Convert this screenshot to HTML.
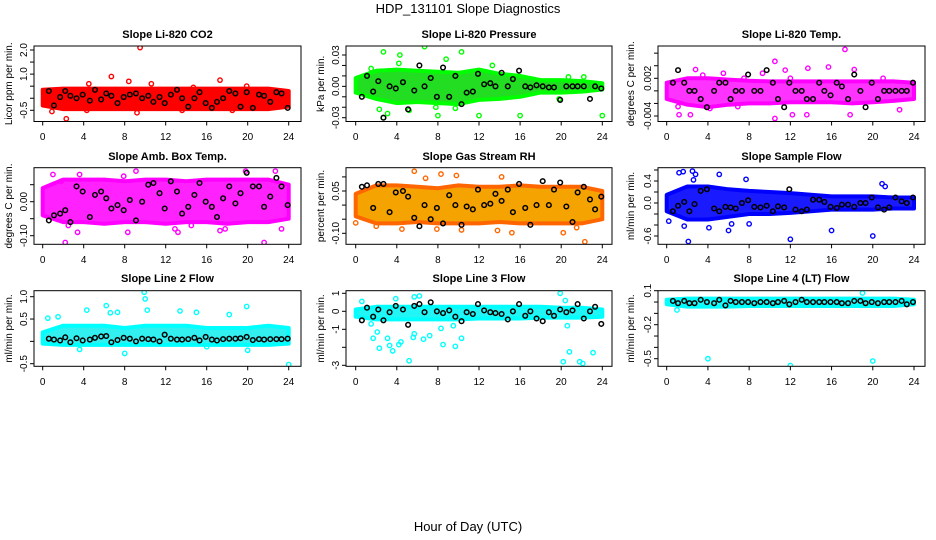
<!DOCTYPE html>
<html><head><meta charset="utf-8">
<style>
html,body{margin:0;padding:0;background:#fff;}
svg{display:block;font-family:"Liberation Sans",Arial,sans-serif;}
</style></head>
<body>
<svg id="chart" width="936" height="540" viewBox="0 0 936 540" xmlns="http://www.w3.org/2000/svg">
<rect x="0" y="0" width="936" height="540" fill="#fff"/>
<text x="468" y="13" text-anchor="middle" font-size="13">HDP_131101  Slope Diagnostics</text>
<text x="468" y="531" text-anchor="middle" font-size="13">Hour of Day (UTC)</text>
</svg>
<script>
// ---- shared data ----
const bandHours = [0,2,4,6,8,10,12,14,16,18,20,22,24];
const blackX = [0.6,1.1,1.7,2.2,2.7,3.3,3.9,4.6,5.1,5.7,6.2,6.7,7.3,7.9,8.5,9.1,9.7,10.3,10.8,11.4,11.9,12.5,13.1,13.6,14.2,14.8,15.3,15.9,16.5,17.0,17.6,18.2,18.8,19.3,19.9,20.5,21.1,21.6,22.2,22.8,23.3,23.9];
const xTicks = [0,4,8,12,16,20,24];

// ---- panel 1: CO2 ----
const p1Lo = [-0.3,-0.45,-0.45,-0.45,-0.45,-0.45,-0.45,-0.45,-0.45,-0.45,-0.45,-0.45,-0.35];
const p1Hi = [0.35,0.4,0.4,0.4,0.4,0.4,0.4,0.4,0.4,0.4,0.4,0.4,0.3];
const p1OutX = [9.5,6.7,8.4,4.5,10.6,17.3,2.3,9.2,4.3,18.5,13.6,0.9,14.7,19.9];
const p1OutY = [2.1,0.9,0.7,0.6,0.6,0.75,-0.85,-0.6,-0.5,-0.5,-0.5,-0.55,0.45,0.5];
const p1Black = [0.3,-0.3,0.05,0.3,0.1,0.0,0.15,-0.1,0.35,-0.05,0.2,0.1,-0.2,0.05,0.15,0.2,0.0,0.1,-0.15,0.05,-0.2,0.15,0.35,0.0,-0.35,0.0,0.25,-0.2,-0.4,-0.15,0.0,0.3,0.2,-0.35,0.25,-0.4,0.15,0.1,-0.15,0.25,0.2,-0.4];
const p1Ticks = [-0.5,0,0.5,1,1.5,2];
const p1Labels = ["-0.5","","","1.0","","2.0"];

// ---- panel 2: Pressure ----
const p2Lo = [-0.006,-0.012,-0.016,-0.015,-0.016,-0.017,-0.013,-0.012,-0.010,-0.006,-0.006,-0.005,-0.003];
const p2Hi = [0.008,0.015,0.016,0.015,0.014,0.013,0.016,0.012,0.010,0.006,0.006,0.005,0.003];
const p2OutX = [2.7,6.7,4.3,8.8,10.3,2.7,2.3,3.1,8,12,16,24,1.5,9.7,4.2,13.3,20.7,22.2,5.2,7.8,19.8];
const p2OutY = [0.033,0.038,0.03,0.026,0.033,-0.03,-0.022,-0.026,-0.028,-0.028,-0.028,-0.028,0.017,-0.021,0.022,0.020,0.009,0.009,-0.023,-0.02,-0.012];
const p2Black = [-0.01,0.01,-0.005,0.005,-0.03,0.0,-0.002,0.004,-0.022,-0.004,0.02,0.0,0.008,-0.01,0.018,-0.01,0.01,-0.017,-0.006,-0.005,0.012,0.002,0.003,0.0,0.013,0.0,0.007,0.015,0.0,-0.001,0.001,0.0,-0.001,-0.001,-0.013,0.0,0.0,0.0,0.0,-0.012,0.0,-0.002];
const p2Ticks = [-0.03,-0.02,-0.01,0,0.01,0.02,0.03];
const p2Labels = ["-0.03","","","0.00","","","0.03"];

// ---- panel 3: Li-820 Temp ----
const p3Lo = [-0.0013,-0.0022,-0.0026,-0.0022,-0.002,-0.002,-0.0018,-0.0018,-0.0018,-0.002,-0.0018,-0.0016,-0.0013];
const p3Hi = [0.0013,0.002,0.002,0.0018,0.0016,0.0015,0.0015,0.0015,0.0015,0.0015,0.0015,0.0015,0.0013];
const p3OutX = [1.2,2.3,1.1,2.8,5.5,10.5,10.5,11.5,13.7,15.7,17.3,18.2,17.8,12.2,13.6,22.6,9.3,6.9,4.2,21,12,7.5,3.5];
const p3OutY = [-0.0038,-0.0038,-0.0025,0.0034,0.0028,0.0047,-0.0044,0.0033,0.0036,0.0038,0.0066,0.0034,-0.0038,-0.0038,-0.0038,-0.0030,0.0028,-0.0025,-0.0028,0.0020,0.0020,0.002,0.0025];
const p3Black = [0.0013,0.0033,0.0013,0,0,-0.0013,-0.0026,0,0.0013,0.0013,-0.0013,0,0,0.0026,0,0,0.0033,0.0013,-0.0013,-0.0026,0.0013,0,0,-0.0013,-0.0013,0.0013,0,-0.0007,0.0013,0.0007,-0.0013,0.0026,0,-0.0026,0.0013,-0.0013,0,0,0,0,0,0.0013];
const p3Ticks = [-0.004,-0.002,0,0.002,0.004,0.006];
const p3Labels = ["-0.004","","","0.002","",""];

// ---- panel 4: Amb Box Temp ----
const p4Lo = [-0.04,-0.06,-0.06,-0.065,-0.06,-0.06,-0.065,-0.06,-0.06,-0.065,-0.06,-0.06,-0.05];
const p4Hi = [0.04,0.065,0.065,0.065,0.06,0.065,0.065,0.06,0.065,0.065,0.065,0.065,0.05];
const p4OutX = [1,2.2,3.4,2.5,8.3,13.2,17.3,17.8,21.6,22.7,9.1,19.8,12.9,14.5,7.9,3.6,23.3,1.8];
const p4OutY = [0.08,-0.12,-0.09,-0.07,-0.09,-0.09,-0.085,-0.08,-0.12,0.09,0.09,0.09,-0.08,-0.07,0.075,0.08,-0.08,0.06];
const p4Black = [-0.055,-0.04,-0.035,-0.025,-0.06,0.045,0.03,-0.045,0.02,0.03,0.01,-0.02,-0.01,-0.025,0.005,-0.055,0.0,0.05,0.055,0.025,-0.02,0.06,0.03,-0.035,-0.015,0.02,0.055,0.0,-0.015,-0.045,0.01,0.045,-0.005,0.025,0.085,0.045,0.045,-0.015,0.015,0.07,0.045,-0.01];
const p4Ticks = [-0.1,-0.05,0,0.05];
const p4Labels = ["-0.10","","0.00",""];

// ---- panel 5: Gas Stream RH ----
const p5Lo = [-0.04,-0.065,-0.065,-0.06,-0.065,-0.065,-0.065,-0.06,-0.065,-0.065,-0.065,-0.065,-0.05];
const p5Hi = [0.04,0.07,0.07,0.065,0.06,0.07,0.065,0.065,0.07,0.065,0.065,0.065,0.05];
const p5OutX = [5.7,8.3,9.8,14.2,22.3,15.2,20.2,10.3,7.9,2,0,13.8,21.5,6.8,4.5];
const p5OutY = [0.12,0.11,0.105,0.1,-0.13,-0.098,-0.098,-0.088,-0.085,-0.075,-0.063,-0.09,-0.08,0.095,-0.085];
const p5Black = [0.065,0.07,-0.01,0.075,0.075,-0.025,0.045,0.05,0.03,-0.045,-0.075,0.0,-0.05,-0.01,-0.065,0.035,0.0,-0.07,-0.005,-0.015,0.055,0.0,0.005,0.04,0.015,0.055,-0.025,0.075,-0.01,-0.07,0.0,0.085,0.0,0.055,0.08,-0.005,-0.06,0.045,0.065,0.02,-0.015,0.03];
const p5Ticks = [-0.1,-0.05,0,0.05,0.1];
const p5Labels = ["-0.10","","","0.05",""];

// ---- panel 6: Sample Flow ----
const p6Lo = [-0.15,-0.3,-0.3,-0.25,-0.2,-0.2,-0.18,-0.15,-0.12,-0.12,-0.12,-0.1,-0.1];
const p6Hi = [0.15,0.3,0.3,0.25,0.22,0.2,0.18,0.15,0.12,0.12,0.12,0.1,0.1];
const p6OutX = [1.2,1.6,2.5,2.8,5.1,7.7,0.2,1.7,2.1,4.1,6.0,12,16,20,20.9,2.6,6.3,8.0,21.2];
const p6OutY = [0.55,0.57,0.58,0.52,0.52,0.43,-0.33,-0.42,-0.7,-0.45,-0.5,-0.66,-0.5,-0.6,0.35,0.42,-0.38,-0.38,0.3];
const p6Black = [-0.15,-0.05,0.02,-0.15,-0.02,0.22,0.25,-0.1,-0.15,-0.07,-0.08,-0.1,0.0,0.05,-0.07,-0.08,-0.05,-0.15,-0.06,-0.08,0.25,-0.12,-0.15,-0.12,0.06,0.06,0.02,-0.07,-0.09,-0.03,-0.03,-0.07,0.0,0.0,0.1,-0.08,-0.12,-0.08,0.1,0.03,0.0,0.1];
const p6Ticks = [-0.6,-0.4,-0.2,0,0.2,0.4,0.6];
const p6Labels = ["-0.6","","","0.0","","0.4",""];

// ---- panel 7: Line 2 Flow ----
const p7Lo = [-0.05,-0.08,-0.08,-0.08,-0.08,-0.08,-0.08,-0.08,-0.08,-0.08,-0.08,-0.08,-0.05];
const p7Hi = [0.2,0.35,0.35,0.35,0.3,0.35,0.35,0.35,0.3,0.3,0.3,0.35,0.3];
const p7OutX = [9.9,10,10.2,6.2,19.9,4.3,13.4,15,7.3,6.6,3.6,8,24,20,16,0.5,1.5,18.2];
const p7OutY = [1.1,0.95,0.7,0.8,0.78,0.7,0.68,0.65,0.65,0.64,-0.18,-0.27,-0.52,-0.2,-0.12,0.52,0.55,0.6];
const p7Black = [0.06,0.04,0.02,0.09,-0.02,0.07,0.02,0.04,0.08,0.11,0.12,-0.02,0.03,0.08,0.06,0.0,0.06,0.05,0.04,0.0,0.15,0.06,0.04,0.04,0.05,0.08,0.02,0.1,0.04,0.02,0.05,0.06,0.06,0.07,0.1,0.03,0.05,0.04,0.05,0.05,0.05,0.06];
const p7Ticks = [-0.5,0,0.5,1];
const p7Labels = ["-0.5","","0.5","1.0"];

// ---- panel 8: Line 3 Flow ----
const p8Lo = [-0.3,-0.45,-0.45,-0.45,-0.45,-0.45,-0.4,-0.4,-0.4,-0.35,-0.35,-0.35,-0.3];
const p8Hi = [0.1,0.25,0.25,0.25,0.25,0.25,0.25,0.25,0.25,0.25,0.2,0.2,0.1];
const p8OutX = [0.6,3.9,5.7,6.2,19.9,20.4,1.5,1.7,2.1,2.3,3.1,3.3,3.6,4.2,4.4,5.2,5.7,5.6,6.6,7.2,8.5,8.3,9.7,10.3,20.2,20.8,20.6,21.8,22.1,23.1,9.5];
const p8OutY = [0.55,0.7,0.8,0.85,1.0,0.6,-0.7,-1.5,-1.15,-2.05,-1.5,-1.9,-2.2,-1.85,-1.7,-2.75,-1.25,-1.45,-1.55,-1.35,-1.85,-0.95,-1.95,-1.5,-2.8,-2.25,-0.8,-2.8,-2.9,-2.3,-0.8];
const p8Black = [-0.5,0.2,-0.3,0.1,-0.5,-0.05,0.3,0.1,-0.75,0.3,0.4,-0.05,0.5,0.0,-0.1,0.05,-0.3,-0.55,-0.05,-0.15,0.4,0.05,-0.05,-0.1,-0.15,-0.45,0.0,0.4,-0.25,0.0,-0.4,-0.55,-0.05,-0.25,0.1,-0.05,0.05,0.4,-0.4,0.0,0.25,-0.7];
const p8Ticks = [-3,-2,-1,0,1];
const p8Labels = ["-3","","-1","0","1"];

// ---- panel 9: Line 4 (LT) Flow ----
const p9Lo = [-0.02,-0.04,-0.04,-0.04,-0.035,-0.035,-0.035,-0.035,-0.035,-0.035,-0.035,-0.035,-0.02];
const p9Hi = [0.02,0.03,0.03,0.03,0.03,0.03,0.03,0.03,0.03,0.03,0.03,0.03,0.02];
const p9OutX = [4,12,20,19,1];
const p9OutY = [-0.5,-0.56,-0.52,0.08,-0.07];
const p9Black = [0.01,-0.01,0.01,-0.01,-0.01,0.02,0.0,-0.01,0.02,-0.03,0.01,0.0,0.0,0.0,-0.01,0.0,0.0,-0.01,0.0,0.01,-0.02,0.0,0.02,0.0,0.0,0.0,0.0,0.0,0.0,-0.01,-0.01,0.01,0.01,-0.01,0.0,-0.01,0.0,0.0,0.0,0.01,-0.02,0.0];
const p9Ticks = [-0.5,-0.4,-0.3,-0.2,-0.1,0,0.1];
const p9Labels = ["-0.5","","","-0.2","","","0.1"];

// ---- layout (not data) ----
const cols = [{L:34,R:301,x0:42.7,x24:288.7,yt:8},{L:346,R:612,x0:355.7,x24:602.3,yt:320},{L:658,R:925,x0:666.7,x24:914,yt:630}];
const rows = [{T:46,B:121.5,tl:140,tt:38},{T:167.7,B:244.3,tl:263,tt:160},{T:290.7,B:366.3,tl:385,tt:282}];
const NS = "http://www.w3.org/2000/svg";
const svg = document.getElementById('chart');
function mk(tag, attrs, parent){const e=document.createElementNS(NS,tag);for(const k in attrs)e.setAttribute(k,attrs[k]);(parent||svg).appendChild(e);return e;}

const panels = [
 {t:"Slope Li-820 CO2",yl:"Licor ppm per min.",c:0,r:0,a:[2.0,50],b:[-0.5,110.3],lo:p1Lo,hi:p1Hi,ox:p1OutX,oy:p1OutY,bk:p1Black,tk:p1Ticks,lb:p1Labels,col:"#ff0000",fill:"#ff0000"},
 {t:"Slope Li-820 Pressure",yl:"kPa per min.",c:1,r:0,a:[0.03,55],b:[-0.03,117.7],lo:p2Lo,hi:p2Hi,ox:p2OutX,oy:p2OutY,bk:p2Black,tk:p2Ticks,lb:p2Labels,col:"#00ff00",fill:"#22dd22"},
 {t:"Slope Li-820 Temp.",yl:"degrees C per min.",c:2,r:0,a:[0.002,78.3],b:[-0.004,116],lo:p3Lo,hi:p3Hi,ox:p3OutX,oy:p3OutY,bk:p3Black,tk:p3Ticks,lb:p3Labels,col:"#ff00ff",fill:"#ff33ff"},
 {t:"Slope Amb. Box Temp.",yl:"degrees C per min.",c:0,r:1,a:[0,201.7],b:[-0.1,235.7],lo:p4Lo,hi:p4Hi,ox:p4OutX,oy:p4OutY,bk:p4Black,tk:p4Ticks,lb:p4Labels,col:"#ff00ff",fill:"#ff22ff"},
 {t:"Slope Gas Stream RH",yl:"percent per min.",c:1,r:1,a:[0.05,191],b:[-0.1,233.3],lo:p5Lo,hi:p5Hi,ox:p5OutX,oy:p5OutY,bk:p5Black,tk:p5Ticks,lb:p5Labels,col:"#ff6600",fill:"#f5a300"},
 {t:"Slope Sample Flow",yl:"ml/min per min.",c:2,r:1,a:[0.4,181],b:[-0.6,236],lo:p6Lo,hi:p6Hi,ox:p6OutX,oy:p6OutY,bk:p6Black,tk:p6Ticks,lb:p6Labels,col:"#0000ff",fill:"#1a1aff"},
 {t:"Slope Line 2 Flow",yl:"ml/min per min.",c:0,r:2,a:[1.0,296.7],b:[-0.5,363.7],lo:p7Lo,hi:p7Hi,ox:p7OutX,oy:p7OutY,bk:p7Black,tk:p7Ticks,lb:p7Labels,col:"#00ffff",fill:"#33f0f0"},
 {t:"Slope Line 3 Flow",yl:"ml/min per min.",c:1,r:2,a:[1,293.3],b:[-3,365.3],lo:p8Lo,hi:p8Hi,ox:p8OutX,oy:p8OutY,bk:p8Black,tk:p8Ticks,lb:p8Labels,col:"#00ffff",fill:"#22f5f5"},
 {t:"Slope Line 4 (LT) Flow",yl:"ml/min per min.",c:2,r:2,a:[0.1,290.7],b:[-0.5,358.7],lo:p9Lo,hi:p9Hi,ox:p9OutX,oy:p9OutY,bk:p9Black,tk:p9Ticks,lb:p9Labels,col:"#00ffff",fill:"#22f5f5"}
];

panels.forEach((p,i)=>{
  const C=cols[p.c], R=rows[p.r];
  const xs = h => C.x0 + (C.x24-C.x0)*h/24;
  const ys = v => p.a[1] + (v-p.a[0])*(p.b[1]-p.a[1])/(p.b[0]-p.a[0]);
  const g = mk('g',{});
  
  
  const cx=(C.L+C.R)/2;
  const tt = mk('text',{x:cx,y:R.tt,'text-anchor':'middle','font-size':11,'font-weight':'bold'},g);
  tt.textContent=p.t;
  
  
  // clip
  const cp = mk('clipPath',{id:'cp'+i},g);
  mk('rect',{x:C.L,y:R.T,width:C.R-C.L,height:R.B-R.T},cp);
  const plot = mk('g',{'clip-path':'url(#cp'+i+')'},g);
  
  
  // band
  let d='';
  bandHours.forEach((h,k)=>{d+=(k?'L':'M')+xs(h).toFixed(1)+' '+ys(p.hi[k]).toFixed(1);});
  for(let k=bandHours.length-1;k>=0;k--){d+='L'+xs(bandHours[k]).toFixed(1)+' '+ys(p.lo[k]).toFixed(1);}
  const band = mk('path',{d:d+'Z',fill:p.fill,stroke:p.col,'stroke-width':4,'stroke-linejoin':'round'},plot);
  
  
  // outliers
  p.ox.forEach((h,k)=>{
    const c = mk('circle',{cx:xs(h),cy:ys(p.oy[k]),r:2.2,fill:'none',stroke:p.col,'stroke-width':1.4},plot);
    
    
  });
  // black points
  blackX.forEach((h,k)=>{
    const c = mk('circle',{cx:xs(h),cy:ys(p.bk[k]),r:2.3,fill:'none',stroke:'#000','stroke-width':1.5},plot);
    
    
  });
  // box
  const box = mk('rect',{x:C.L,y:R.T,width:C.R-C.L,height:R.B-R.T,fill:'none',stroke:'#000','stroke-width':1},g);
  
  
  // x axis
  xTicks.forEach(h=>{
    mk('line',{x1:xs(h),x2:xs(h),y1:R.B,y2:R.B+4,stroke:'#000'},g);
    const t = mk('text',{x:xs(h),y:R.tl,'text-anchor':'middle','font-size':10},g);
    t.textContent=h;
    
    
  });
  // y axis
  p.tk.forEach((v,k)=>{
    const y=ys(v);
    mk('line',{x1:C.L-4,x2:C.L,y1:y,y2:y,stroke:'#000'},g);
    if(p.lb[k]){
      const t = mk('text',{x:0,y:0,'text-anchor':'middle','font-size':10,transform:'translate('+(C.L-7)+','+y.toFixed(1)+') rotate(-90)'},g);
      t.textContent=p.lb[k];
      
      
    }
  });
  const yl = mk('text',{x:0,y:0,'text-anchor':'middle','font-size':10,transform:'translate('+(C.yt+4)+','+((R.T+R.B)/2)+') rotate(-90)'},g);
  yl.textContent=p.yl;
  
  
});
</script>
</body></html>
